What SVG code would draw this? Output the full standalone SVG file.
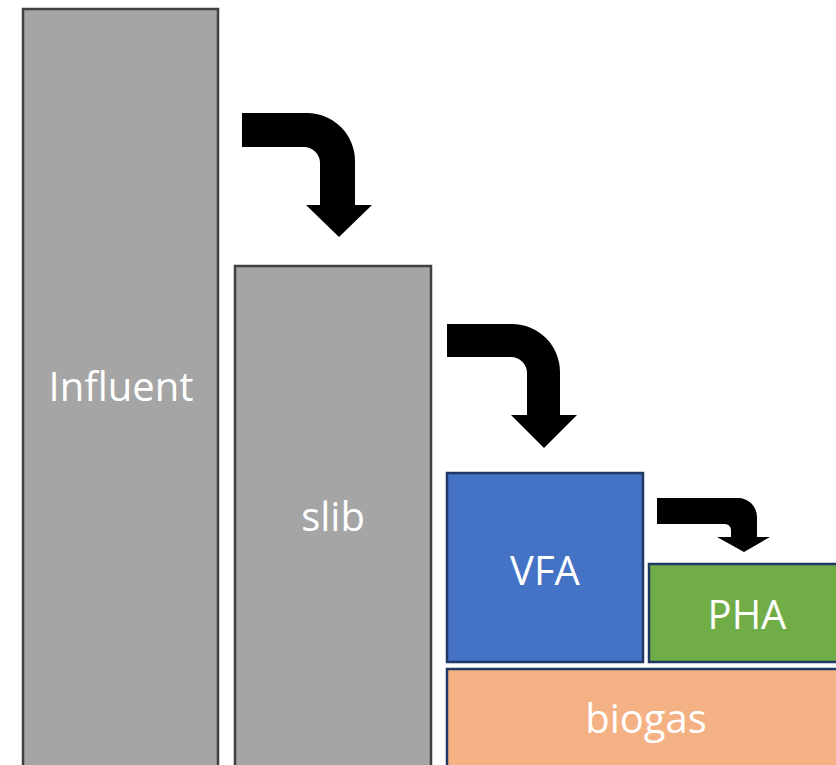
<svg xmlns="http://www.w3.org/2000/svg" width="836" height="765" viewBox="0 0 836 765">
<style>
.gray{fill:#A5A5A5;stroke:#404040;stroke-width:2.5}
.col{stroke:#203864;stroke-width:2.5}
.lbl{font-family:"Open Sans","Liberation Sans",sans-serif;font-size:40px;fill:#FFFFFF;text-anchor:middle}
.arr{fill:#000000}
</style>
<rect width="836" height="765" fill="#FFFFFF"/>
<g id="influent">
<rect class="gray" x="23" y="9" width="195" height="770"/>
<text class="lbl" x="121" y="401">Influent</text>
</g>
<g id="slib">
<rect class="gray" x="235" y="266" width="196" height="513"/>
<text class="lbl" x="333" y="531">slib</text>
</g>
<g id="vfa">
<rect class="col" x="447" y="473" width="196" height="189" fill="#4472C4"/>
<text class="lbl" x="545" y="585">VFA</text>
</g>
<g id="pha">
<rect class="col" x="649" y="564" width="200" height="98" fill="#70AD47"/>
<text class="lbl" x="747" y="629">PHA</text>
</g>
<g id="biogas">
<rect class="col" x="447" y="669" width="400" height="110" fill="#F4B183"/>
<text class="lbl" x="646" y="733">biogas</text>
</g>
<g id="connectors">
<path class="arr" d="M242,113 L307,113 A48,48 0 0 1 355,161 L355,205 L372,205 L339,237 L306,205 L320,205 L320,163 A16,16 0 0 0 304,147 L242,147 Z"/>
<path class="arr" d="M447,324 L512,324 A48,48 0 0 1 560,372 L560,415 L577,415 L544,448 L511,415 L527,415 L527,373 A16,16 0 0 0 511,357 L447,357 Z"/>
<path class="arr" d="M657,498 L738,498 A19,19 0 0 1 757,517 L757,537 L770,537 L744,552 L717,537 L731,537 L731,530 A6,6 0 0 0 725,524 L657,524 Z"/>
</g>
</svg>
